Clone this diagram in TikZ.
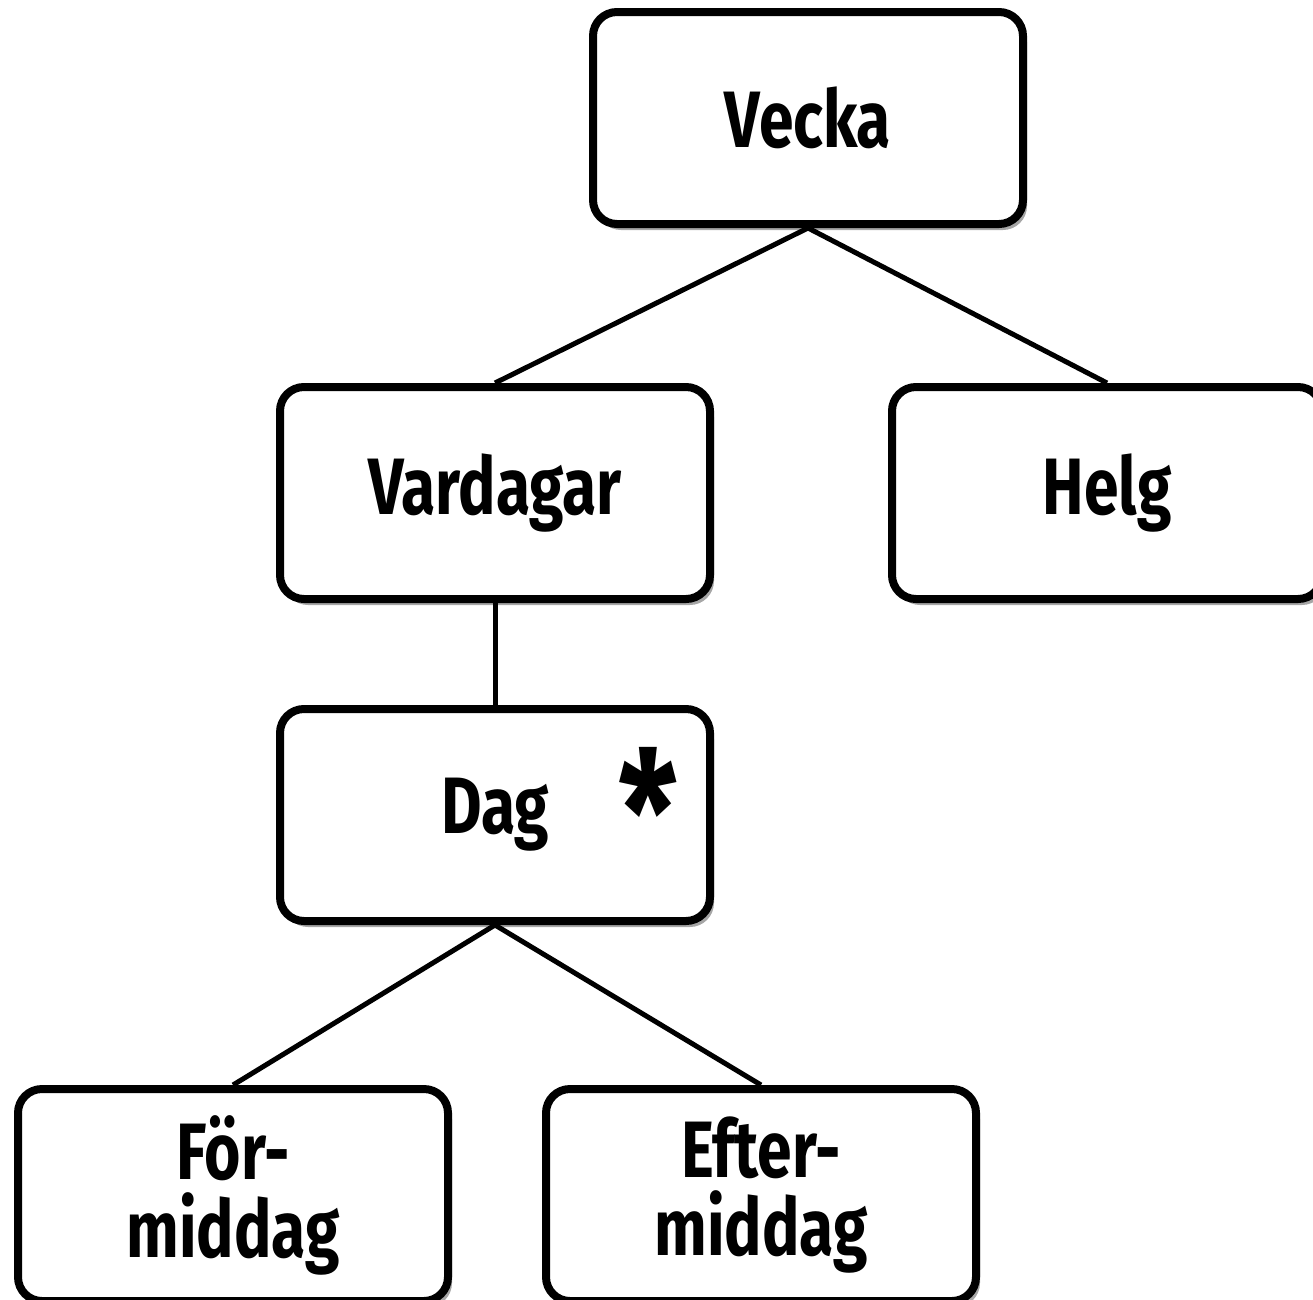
\documentclass[tikz,border=0pt]{standalone}
\usepackage{fontspec}
\setmainfont{Fira Sans}[FakeStretch=0.78]
\usetikzlibrary{shadows}
\tikzset{
  box/.style={draw=black, line width=8pt, rounded corners=24pt, fill=white,
    minimum width=430pt, minimum height=212pt, inner sep=0pt, align=center,
    font=\fontsize{80}{78}\selectfont\bfseries,
    drop shadow={shadow xshift=4pt, shadow yshift=-6pt, opacity=0.35, fill=black}},
  link/.style={line width=5pt, draw=black},
  astx/.style={font=\fontsize{170}{170}\selectfont\bfseries, inner sep=0pt}
}
\begin{document}
\begin{tikzpicture}[x=1pt,y=-1pt]
\useasboundingbox (0,0) rectangle (1313,1299);
\fill[white] (0,0) rectangle (1313,1299);
\node[box] (vecka) at (808,118) {Vecka};
\node[box] (vardagar) at (495,493) {Vardagar};
\node[box] (helg) at (1107,493) {Helg};
\node[box] (dag) at (495,815) {Dag};
\node[astx] (ast) at (648,810) {*};
\node[box] (for) at (233,1195) {För-\\middag};
\node[box] (efter) at (761,1195) {Efter-\\middag};
\draw[link] (vecka.south) -- (vardagar.north);
\draw[link] (vecka.south) -- (helg.north);
\draw[link] (vardagar.south) -- (dag.north);
\draw[link] (dag.south) -- (for.north);
\draw[link] (dag.south) -- (efter.north);
\end{tikzpicture}
\end{document}
